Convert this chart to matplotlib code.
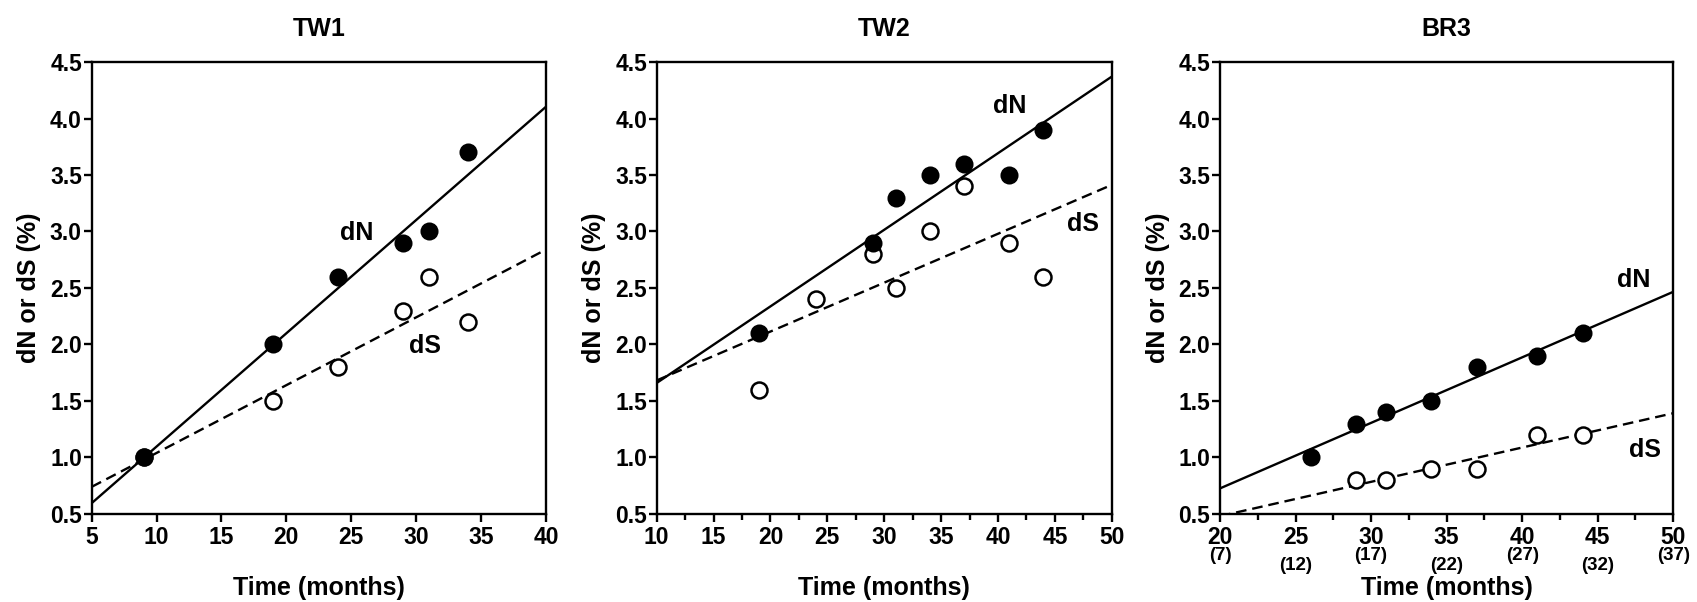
import numpy as np
import matplotlib.pyplot as plt

plt.rcParams['font.family'] = ['Liberation Sans', 'DejaVu Sans']
plt.rcParams['font.weight'] = 'bold'

# TW1
tw1_dn_x = [9, 19, 24, 29, 31, 34]
tw1_dn_y = [1.0, 2.0, 2.6, 2.9, 3.0, 3.7]
tw1_ds_x = [9, 19, 24, 29, 31, 34]
tw1_ds_y = [1.0, 1.5, 1.8, 2.3, 2.6, 2.2]

# TW2
tw2_dn_x = [19, 29, 31, 34, 37, 41, 44]
tw2_dn_y = [2.1, 2.9, 3.3, 3.5, 3.6, 3.5, 3.9]
tw2_ds_x = [19, 24, 29, 31, 34, 37, 41, 44]
tw2_ds_y = [1.6, 2.4, 2.8, 2.5, 3.0, 3.4, 2.9, 2.6]

# BR3
br3_dn_x = [26, 29, 31, 34, 37, 41, 44]
br3_dn_y = [1.0, 1.3, 1.4, 1.5, 1.8, 1.9, 2.1]
br3_ds_x = [29, 31, 34, 37, 41, 44]
br3_ds_y = [0.8, 0.8, 0.9, 0.9, 1.2, 1.2]

br3_ticks = [20, 25, 30, 35, 40, 45, 50]
br3_sub = ['(7)', '(12)', '(17)', '(22)', '(27)', '(32)', '(37)']

panels = [
    dict(title='TW1', xlim=(5, 40), minor=False,
         dn=(tw1_dn_x, tw1_dn_y), ds=(tw1_ds_x, tw1_ds_y),
         dn_txt=(25.4, 2.99), ds_txt=(30.7, 1.99)),
    dict(title='TW2', xlim=(10, 50), minor=True,
         dn=(tw2_dn_x, tw2_dn_y), ds=(tw2_ds_x, tw2_ds_y),
         dn_txt=(41.0, 4.11), ds_txt=(47.5, 3.07)),
    dict(title='BR3', xlim=(20, 50), minor=True,
         dn=(br3_dn_x, br3_dn_y), ds=(br3_ds_x, br3_ds_y),
         dn_txt=(47.4, 2.57), ds_txt=(48.1, 1.07)),
]

lefts = [0.0540, 0.3870, 0.7189]
widths = [0.2677, 0.2681, 0.2671]

fig = plt.figure(figsize=(16.97, 6.02), dpi=100)

for p, l, w in zip(panels, lefts, widths):
    ax = fig.add_axes([l, 0.1462, w, 0.7508])
    xr = np.array(p['xlim'], dtype=float)

    # fitted lines
    for (x, y), ls in [(p['dn'], '-'), (p['ds'], '--')]:
        k, b = np.polyfit(x, y, 1)
        line, = ax.plot(xr, k * xr + b, color='black', lw=1.7, ls=ls, zorder=2)
        if ls == '--':
            line.set_dashes((4.5, 2.5))

    ax.plot(*p['ds'], 'o', color='white', ms=11.5, mec='black', mew=1.8, zorder=3)
    ax.plot(*p['dn'], 'o', color='black', ms=11.5, mec='black', mew=1.5, zorder=4)

    ax.text(*p['dn_txt'], 'dN', fontsize=18, fontweight='bold', ha='center', va='center')
    ax.text(*p['ds_txt'], 'dS', fontsize=18, fontweight='bold', ha='center', va='center')

    ax.set_xlim(*p['xlim'])
    ax.set_ylim(0.5, 4.5)
    ax.set_xticks(np.arange(p['xlim'][0], p['xlim'][1] + 1, 5))
    if p['minor']:
        ax.set_xticks(np.arange(p['xlim'][0], p['xlim'][1] + 1, 2.5), minor=True)
    ax.set_yticks(np.arange(0.5, 4.51, 0.5))
    ax.set_yticklabels([f'{v:.1f}' for v in np.arange(0.5, 4.51, 0.5)])

    for s in ax.spines.values():
        s.set_linewidth(1.7)
    ax.tick_params(axis='both', which='major', length=6, width=1.7, labelsize=16.5)
    ax.tick_params(axis='x', which='major', pad=2.5)
    ax.tick_params(axis='y', which='major', pad=1)
    ax.tick_params(axis='x', which='minor', length=4, width=1.7)
    for lab in ax.get_xticklabels() + ax.get_yticklabels():
        lab.set_fontweight('bold')

    ax.set_title(p['title'], fontsize=18, fontweight='bold', pad=19)
    ax.set_ylabel('dN or dS (%)', fontsize=18, fontweight='bold')
    ax.yaxis.set_label_coords(-0.111, 0.5)
    ax.set_xlabel('Time (months)', fontsize=18, fontweight='bold')
    ax.xaxis.set_label_coords(0.5, -0.138)

    if p['title'] == 'BR3':
        tr = ax.get_xaxis_transform()
        for i, (t, s) in enumerate(zip(br3_ticks, br3_sub)):
            yy = -0.092 if i % 2 == 0 else -0.115
            ax.text(t, yy, s, transform=tr, fontsize=13.5, fontweight='bold',
                    ha='center', va='center', clip_on=False)

fig.savefig('out.png', dpi=100)
